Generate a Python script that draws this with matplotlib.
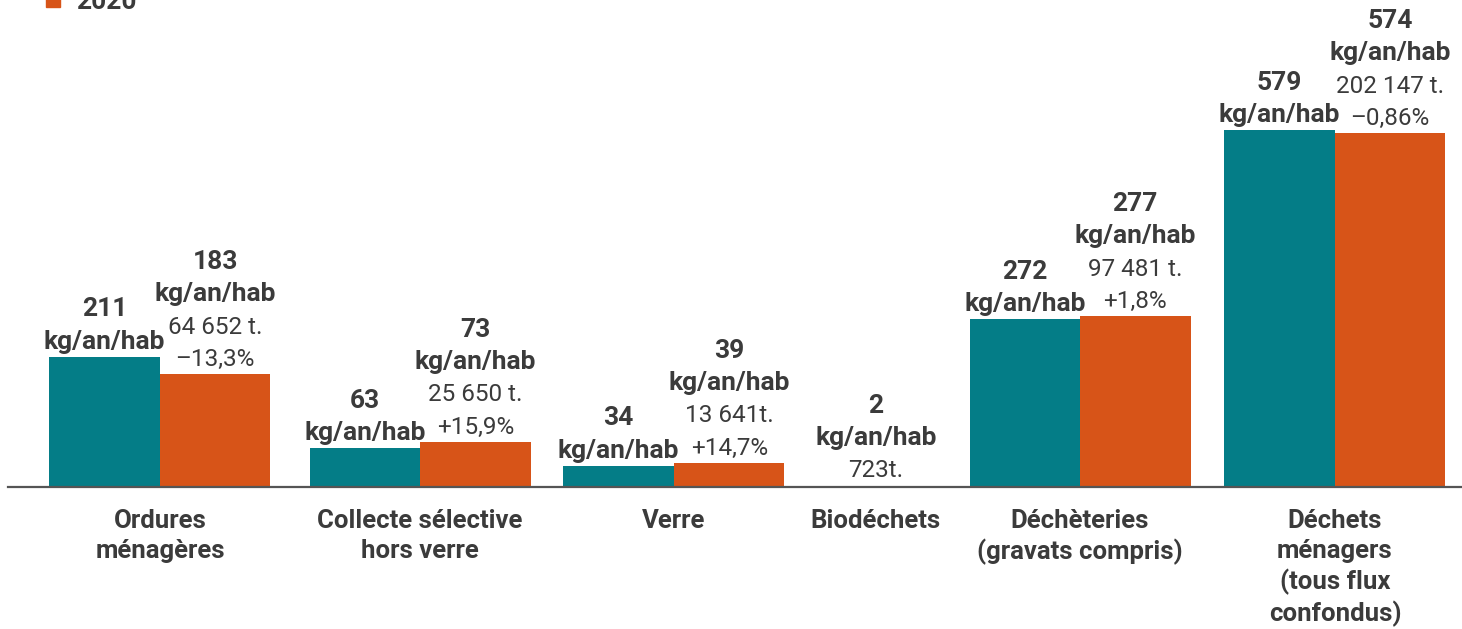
import matplotlib.pyplot as plt

# Données
categories = ["Ordures\nménagères", "Collecte sélective\nhors verre", "Verre",
              "Biodéchets", "Déchèteries\n(gravats compris)",
              "Déchets\nménagers\n(tous flux\nconfondus)"]
v2019 = [211, 63, 34, None, 272, 579]
v2020 = [183, 73, 39, 2, 277, 574]
tonnes_2020 = ["64 652 t.", "25 650 t.", "13 641t.", "723t.", "97 481 t.", "202 147 t."]
evol_2020 = ["–13,3%", "+15,9%", "+14,7%", "", "+1,8%", "–0,86%"]

# Mise en page
centres = [0, 2.353, 4.651, 6.479, 8.326, 10.633]
largeur = 1.0
bleu = "#047d87"
orange = "#d75418"
gris = "#3b3b3b"
police = "Roboto"

fig = plt.figure(figsize=(14.62, 6.29), dpi=100)
ax = fig.add_axes([8 / 1462, 142 / 629, 1454 / 1462, 487 / 629])


def etiquette(x, y, lignes):
    # lignes : liste (texte, gras) de haut en bas, placées au-dessus de la barre
    pas = 23.2  # points
    for i, (txt, gras) in enumerate(reversed(lignes)):
        ax.annotate(txt, (x, y), xytext=(0, 6 + i * pas), textcoords="offset points",
                    ha="center", va="baseline", fontsize=19 if gras else 17.5,
                    fontweight="bold" if gras else "normal", color=gris,
                    family=police, annotation_clip=False)


for i, c in enumerate(centres):
    if v2019[i] is None:
        x20 = c
    else:
        x19 = c - largeur / 2
        x20 = c + largeur / 2
        ax.bar(x19, v2019[i], width=largeur, color=bleu)
        etiquette(x19, v2019[i], [(str(v2019[i]), True), ("kg/an/hab", True)])
    ax.bar(x20, v2020[i], width=largeur, color=orange)
    lignes = [(str(v2020[i]), True), ("kg/an/hab", True), (tonnes_2020[i], False)]
    if evol_2020[i]:
        lignes.append((evol_2020[i], False))
    etiquette(x20, v2020[i], lignes)

ax.set_xlim((8 - 160) / 110.5, (1462 - 160) / 110.5)
ax.set_ylim(0, 790)
ax.set_xticks(centres)
ax.set_xticklabels(categories, fontsize=18.5, fontweight="bold", color=gris,
                   family=police, linespacing=1.28, va="top")
ax.tick_params(axis="x", length=0, pad=16)
ax.set_yticks([])
for s in ["top", "right", "left"]:
    ax.spines[s].set_visible(False)
ax.spines["bottom"].set_color("#555555")
ax.spines["bottom"].set_linewidth(1.6)

# Légende (coupée en haut de l'image, comme dans l'original)
fig.patches.append(plt.Rectangle((46 / 1462, 1 - 7 / 629), 14 / 1462, 14 / 629,
                                 transform=fig.transFigure, color=orange))
fig.text(76 / 1462, 1 - 2 / 629, "2020", fontsize=19, fontweight="bold",
         color=gris, family=police, va="center", ha="left")

fig.savefig("out.png", dpi=100)
